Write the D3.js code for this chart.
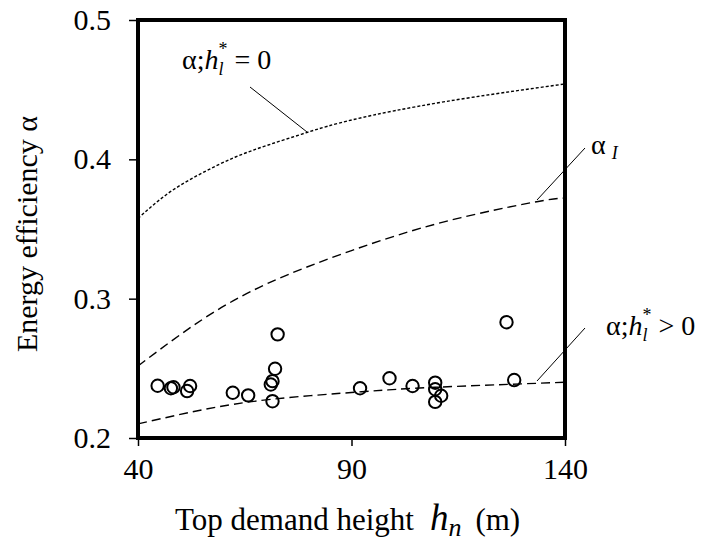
<!DOCTYPE html>
<html>
<head>
<meta charset="utf-8">
<script src="https://cdn.jsdelivr.net/npm/d3@7"></script>
<style>
body { margin: 0; background: #fff; }
svg text { font-family: "Liberation Serif", "DejaVu Serif", "Times New Roman", serif !important; fill: #000; }
</style>
</head>
<body>
<svg id="chart"></svg>
<script>
// values
let x_ticks = [40, 90, 140]
let y_ticks = [0.2, 0.3, 0.4, 0.5]

// alpha; h_l* = 0 (dotted)
let curve_zero = [[40, 0.3576], [47.1, 0.3757], [54.9, 0.390], [62.7, 0.4015], [70.5, 0.4103], [79.5, 0.4192], [90.8, 0.4288], [111.9, 0.4414], [140, 0.4541]]
// alpha_I (dashed)
let curve_I = [[40, 0.2517], [54.9, 0.2847], [70.5, 0.3111], [90, 0.3345], [111.9, 0.3553], [133.4, 0.3696], [140, 0.3721]]
// alpha; h_l* > 0 (dashed)
let curve_pos = [[40, 0.2101], [54.9, 0.2201], [71.3, 0.2278], [92.4, 0.2332], [109.6, 0.2364], [140, 0.2400]]

// measured buildings
let points_h = [44.6, 47.7, 48.3, 52.2, 51.5, 62.2, 65.8, 72.7, 72.1, 71.5, 71.1, 71.5, 92.0, 98.9, 104.3, 109.6, 109.6, 111.0, 109.6, 126.3, 128.1]
let points_a = [0.2375, 0.2357, 0.2364, 0.2373, 0.2337, 0.2325, 0.2306, 0.2744, 0.2497, 0.2408, 0.2384, 0.2264, 0.2357, 0.2429, 0.2373, 0.2397, 0.2350, 0.2303, 0.2259, 0.2831, 0.2416]

let chart_w = 706, chart_h = 548
let m_left = 138, m_right = 565, m_top = 20, m_bottom = 438

let svg = d3.select('#chart')
    .attr('width', chart_w)
    .attr('height', chart_h)

let x = d3.scaleLinear().domain([40, 140]).range([m_left, m_right])
let y = d3.scaleLinear().domain([0.2, 0.5]).range([m_bottom, m_top])

// axes (ticks outside, frame drawn separately)
let xg = svg.append('g')
    .attr('transform', 'translate(0,' + m_bottom + ')')
    .call(d3.axisBottom(x).tickValues(x_ticks).tickSize(8).tickSizeOuter(0).tickPadding(12).tickFormat(d3.format('d')))
let yg = svg.append('g')
    .attr('transform', 'translate(' + m_left + ',0)')
    .call(d3.axisLeft(y).tickValues(y_ticks).tickSize(9).tickSizeOuter(0).tickPadding(18).tickFormat(d3.format('.1f')))

xg.select('.domain').remove()
yg.select('.domain').remove()
xg.attr('font-family', null)
yg.attr('font-family', null)
svg.selectAll('.tick line').attr('stroke', '#000').attr('stroke-width', 1.5)
svg.selectAll('.tick text').attr('font-size', 30)

let line = d3.line()
    .x(function(d){ return x(d[0]) })
    .y(function(d){ return y(d[1]) })
    .curve(d3.curveNatural)

svg.append('path').datum(curve_zero)
    .attr('d', line).attr('fill', 'none').attr('stroke', '#000')
    .attr('stroke-width', 1.4).attr('stroke-dasharray', '3,2')
svg.append('path').datum(curve_I)
    .attr('d', line).attr('fill', 'none').attr('stroke', '#000')
    .attr('stroke-width', 1.4).attr('stroke-dasharray', '9,5')
svg.append('path').datum(curve_pos)
    .attr('d', line).attr('fill', 'none').attr('stroke', '#000')
    .attr('stroke-width', 1.4).attr('stroke-dasharray', '9,5')

svg.selectAll('circle.pt')
    .data(points_h)
    .enter()
    .append('circle')
    .attr('class', 'pt')
    .attr('cx', function(d){ return x(d) })
    .attr('cy', function(d, i){ return y(points_a[i]) })
    .attr('r', 6.2)
    .attr('fill', 'none')
    .attr('stroke', '#000')
    .attr('stroke-width', 2)

// frame
svg.append('rect')
    .attr('x', m_left).attr('y', m_top)
    .attr('width', m_right - m_left).attr('height', m_bottom - m_top)
    .attr('fill', 'none').attr('stroke', '#000').attr('stroke-width', 4)

// leader lines
let leaders = [[250, 87, 307, 132], [585, 148, 537, 200], [585, 328, 537, 381]]
svg.selectAll('line.leader')
    .data(leaders)
    .enter()
    .append('line')
    .attr('class', 'leader')
    .attr('x1', function(d){ return d[0] })
    .attr('y1', function(d){ return d[1] })
    .attr('x2', function(d){ return d[2] })
    .attr('y2', function(d){ return d[3] })
    .attr('stroke', '#000')
    .attr('stroke-width', 1)

// curve labels: alpha;h_l* = 0 and alpha;h_l* > 0
function hLabel(px, py, tail){
    let t = svg.append('text').attr('x', px).attr('y', py).attr('font-size', 28)
    t.append('tspan').text('α;')
    t.append('tspan').attr('font-style', 'italic').text('h')
    t.append('tspan').attr('font-style', 'italic').attr('font-size', 18).attr('dy', 6).text('l')
    t.append('tspan').attr('font-size', 18).attr('dx', -5).attr('dy', -20).text('*')
    t.append('tspan').attr('dy', 14).text(tail)
}
hLabel(182, 69, ' = 0')
hLabel(606, 335, ' > 0')

let ta = svg.append('text').attr('x', 591).attr('y', 154).attr('font-size', 28)
ta.append('tspan').text('α')
ta.append('tspan').attr('font-style', 'italic').attr('font-size', 18).attr('dx', 6).attr('dy', 5).text('I')

// axis titles
let xt = svg.append('text').attr('x', 175).attr('y', 530).attr('font-size', 31)
xt.append('tspan').text('Top demand height')
xt.append('tspan').attr('font-style', 'italic').attr('font-size', 37).attr('dx', 16).text('h')
xt.append('tspan').attr('font-style', 'italic').attr('font-size', 26).attr('dy', 6).text('n')
xt.append('tspan').attr('dx', 14).attr('dy', -6).text('(m)')

svg.append('text')
    .attr('transform', 'translate(37,234) rotate(-90)')
    .attr('text-anchor', 'middle')
    .attr('font-size', 30)
    .text('Energy efficiency α')
</script>
</body>
</html>
